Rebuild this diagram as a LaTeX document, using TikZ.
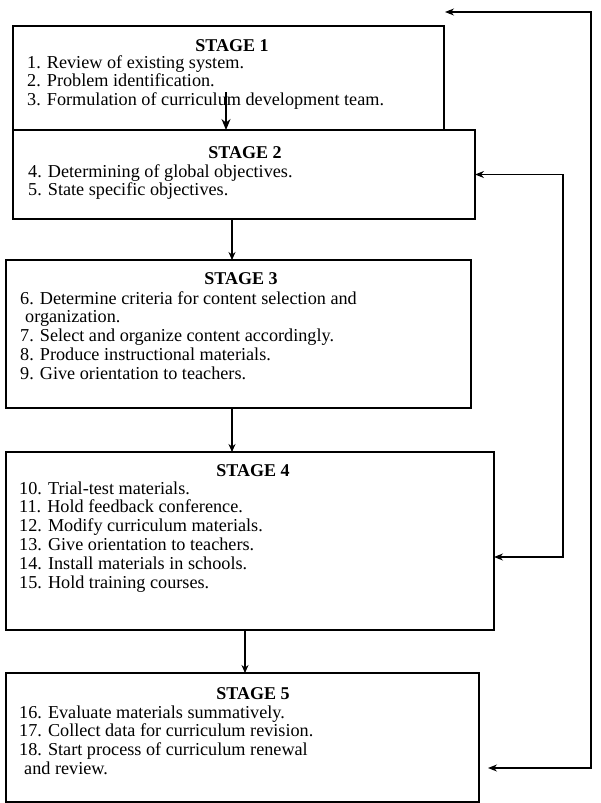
\documentclass[tikz,border=0pt]{standalone}
\usepackage{fontspec}
\setmainfont{Liberation Serif}
\usetikzlibrary{arrows.meta}

\tikzset{
  stagebox/.style={draw, line width=1.4pt, inner sep=0pt, outer sep=0pt},
  stagetitle/.style={font=\fontsize{18}{18.8}\selectfont\bfseries, inner sep=0pt, anchor=base},
  stageitems/.style={font=\fontsize{18.2}{18.8}\selectfont, inner sep=0pt, anchor=base west, align=left},
  flow/.style={line width=1.1pt, -{Stealth[length=8pt,width=7pt]}},
  bigflow/.style={line width=1.3pt, -{Stealth[length=11pt,width=9pt]}},
  feedback/.style={line width=1.1pt, {Stealth[length=9pt,width=7pt]}-{Stealth[length=9pt,width=7pt]}}
}

\begin{document}
\begin{tikzpicture}[x=1pt,y=-1pt]
\useasboundingbox (0,0) rectangle (600,803);

%les cinq cadres
\node[stagebox, minimum width=431pt, minimum height=104pt] (s1) at (228.5,78) {};
\node[stagebox, minimum width=462pt, minimum height=89pt] (s2) at (244,174.5) {};
\node[stagebox, minimum width=465pt, minimum height=148pt] (s3) at (238.5,334) {};
\node[stagebox, minimum width=488pt, minimum height=178pt] (s4) at (250,541) {};
\node[stagebox, minimum width=473pt, minimum height=129pt] (s5) at (242.5,737.5) {};

%titres
\node[stagetitle] (h1) at (232,51) {STAGE 1};
\node[stagetitle] (h2) at (245,158) {STAGE 2};
\node[stagetitle] (h3) at (241,284) {STAGE 3};
\node[stagetitle] (h4) at (253,476) {STAGE 4};
\node[stagetitle] (h5) at (253,699) {STAGE 5};

%listes (ancre = ligne de base de la derniere ligne)
\node[stageitems] (l1) at (27,105.6) {1. Review of existing system.\\
2. Problem identification.\\
3. Formulation of curriculum development team.};
\node[stageitems] (l2) at (28,195.8) {4. Determining of global objectives.\\
5. State specific objectives.};
\node[stageitems] (l3) at (20,379.2) {6. Determine criteria for content selection and\\
\hspace*{5pt}organization.\\
7. Select and organize content accordingly.\\
8. Produce instructional materials.\\
9. Give orientation to teachers.};
\node[stageitems] (l4) at (19,588) {10. Trial-test materials.\\
11. Hold feedback conference.\\
12. Modify curriculum materials.\\
13. Give orientation to teachers.\\
14. Install materials in schools.\\
15. Hold training courses.};
\node[stageitems] (l5) at (19,774.4) {16. Evaluate materials summatively.\\
17. Collect data for curriculum revision.\\
18. Start process of curriculum renewal\\
\hspace*{5pt}and review.};

%fleches entre les etapes
\draw[bigflow] ([xshift=-2.5pt,yshift=38pt]s1.south) -- ([xshift=-18pt]s2.north);
\draw[flow] ([xshift=-12pt]s2.south) -- ([xshift=-6.5pt]s3.north);
\draw[flow] ([xshift=-6.5pt]s3.south) -- ([xshift=-18pt]s4.north);
\draw[flow] ([xshift=-5pt]s4.south) -- ([xshift=2.5pt]s5.north);

%retours
\coordinate (back) at (445,12);
\draw[feedback] (s2.east) -| (563,557) -- ([yshift=-16pt]s4.east);
\draw[feedback] (back) -| (591,768) -- ([xshift=9pt,yshift=-30.5pt]s5.east);

\end{tikzpicture}
\end{document}
